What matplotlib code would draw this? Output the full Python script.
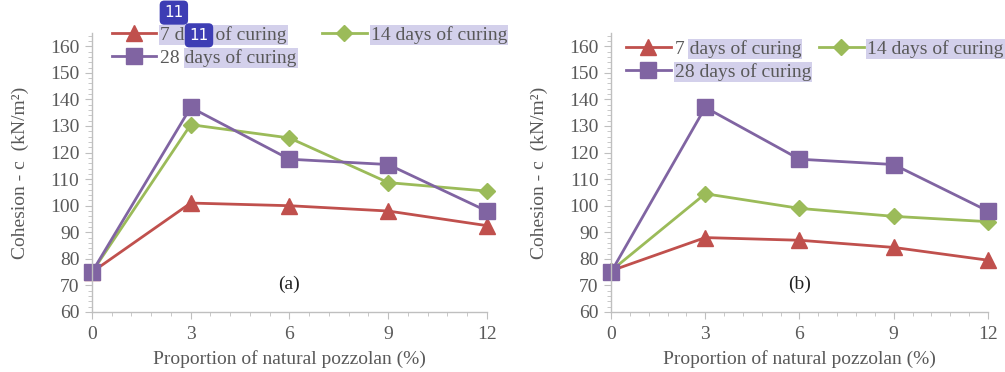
import matplotlib
matplotlib.use('Agg')
import matplotlib.pyplot as plt
from matplotlib.patches import Rectangle
from matplotlib.transforms import IdentityTransform
from matplotlib.ticker import MultipleLocator

# data
pozzolan = [0, 3, 6, 9, 12]
labels = ['7 days of curing', '14 days of curing', '28 days of curing']
a_7 = [75, 101, 100, 98, 92.5]
a_14 = [75, 130.5, 125.5, 108.7, 105.5]
a_28 = [75, 137, 117.5, 115.5, 98]
b_7 = [75.5, 88, 87, 84.3, 79.5]
b_14 = [75.5, 104.5, 99, 96, 94]
b_28 = [75, 137, 117.5, 115.5, 98]

colors = ['#C0504D', '#9BBB59', '#8064A2']
markers = ['^', 'D', 's']
msizes = [11, 8, 11]
grey = '#595959'
axis_grey = '#BFBFBF'
hl_color = '#D3D0EB'
fs = 14

plt.rcParams['font.family'] = 'Liberation Serif'
plt.rcParams['font.size'] = fs

fig = plt.figure(figsize=(10.05, 3.72), dpi=100)
ax_a = fig.add_axes([0.0915, 0.1613, 0.393, 0.750])
ax_b = fig.add_axes([0.608, 0.1613, 0.375, 0.750])


def draw_panel(ax, series, tag, anchor, colspace):
    handles = []
    for vals, col, mk, ms, lab in zip(series, colors, markers, msizes, labels):
        h, = ax.plot(pozzolan, vals, color=col, marker=mk, ms=ms, lw=2,
                     label=lab, clip_on=False)
        handles.append(h)
    ax.set_xlim(0, 12)
    ax.set_ylim(60, 165)
    ax.set_xticks(pozzolan)
    ax.set_yticks(range(60, 161, 10))
    ax.xaxis.set_minor_locator(MultipleLocator(0.6))
    ax.yaxis.set_minor_locator(MultipleLocator(2))
    for s in ['top', 'right']:
        ax.spines[s].set_visible(False)
    for s in ['left', 'bottom']:
        ax.spines[s].set_color(axis_grey)
        ax.spines[s].set_linewidth(1)
    ax.tick_params(which='major', length=5, color=axis_grey, labelcolor=grey,
                   labelsize=fs)
    ax.tick_params(which='minor', length=3, color=axis_grey)
    ax.tick_params(axis='x', pad=5)
    ax.tick_params(axis='y', pad=4)
    ax.set_xlabel('Proportion of natural pozzolan (%)', color=grey, fontsize=fs, labelpad=5)
    ax.set_ylabel('Cohesion - c  (kN/m²)', color=grey, fontsize=fs, labelpad=15)
    ax.text(6, 70.5, tag, ha='center', va='center', fontsize=fs, color='#222222')
    ax.patch.set_alpha(0)
    # order so that row 1 = 7, 14 and row 2 = 28
    leg = ax.legend(handles=[handles[0], handles[2], handles[1]], ncol=2,
                    loc='upper left', bbox_to_anchor=anchor, frameon=False,
                    handlelength=2.3, handletextpad=0.2, columnspacing=colspace,
                    labelspacing=0.25, borderaxespad=0, borderpad=0,
                    fontsize=fs)
    for t in leg.get_texts():
        t.set_color(grey)
    return leg


leg_a = draw_panel(ax_a, [a_7, a_14, a_28], '(a)', (0.05, 1.025), 1.3)
leg_b = draw_panel(ax_b, [b_7, b_14, b_28], '(b)', (0.04, 0.975), 0.4)

fig.canvas.draw()
renderer = fig.canvas.get_renderer()


def highlight(text, suffix=None):
    bb = text.get_window_extent(renderer)
    x0 = bb.x0
    if suffix is not None:
        tmp = fig.text(0, 0, suffix, fontproperties=text.get_fontproperties())
        w = tmp.get_window_extent(renderer).width
        tmp.remove()
        x0 = bb.x1 - w
    rect = Rectangle((x0 - 1, bb.y0 - 1), bb.x1 - x0 + 2, bb.height + 2,
                     transform=IdentityTransform(), facecolor=hl_color,
                     edgecolor='none', zorder=-5)
    fig.add_artist(rect)


# legend texts are in handle order: 7, 28, 14
ta = leg_a.get_texts()
highlight(ta[0])
highlight(ta[2])
highlight(ta[1], 'days of curing')
tb = leg_b.get_texts()
highlight(tb[0], 'days of curing')
highlight(tb[2])
highlight(tb[1])

# the two "11" badges over panel (a)
for bx, by in [(0.173, 0.966), (0.198, 0.905)]:
    fig.text(bx, by, '11', ha='center', va='center', color='white',
             fontsize=11, family='DejaVu Sans', zorder=20,
             bbox=dict(boxstyle='round,pad=0.3', fc='#3D3DB4', ec='none'))

fig.savefig('out.png', dpi=100)
